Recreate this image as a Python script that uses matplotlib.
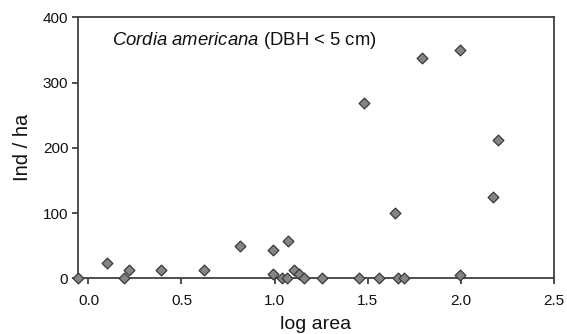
import numpy as np
import matplotlib
matplotlib.use('Agg')
import matplotlib.pyplot as plt

plt.rcParams['font.family'] = ['Liberation Sans', 'DejaVu Sans']
plt.rcParams['mathtext.fontset'] = 'custom'
plt.rcParams['mathtext.it'] = 'Liberation Sans:italic'
plt.rcParams['mathtext.rm'] = 'Liberation Sans'

# log area vs. individuals per hectare
log_area = [-0.056, 0.10, 0.19, 0.22, 0.39, 0.62, 0.815, 0.99, 0.99, 1.04,
            1.066, 1.07, 1.105, 1.13, 1.157, 1.256, 1.452, 1.482, 1.562, 1.648,
            1.661, 1.697, 1.792, 1.998, 1.998, 2.172, 2.199]
ind_ha = [0, 24, 0, 12, 12, 12, 49.5, 43, 7, 0,
          0, 57, 12, 6.5, 0, 0, 0, 269, 0, 100,
          0, 0, 338, 350, 5, 124, 212]

fig = plt.figure(figsize=(5.67, 3.34), dpi=100)
ax = fig.add_axes([0.1376, 0.1668, 0.9765 - 0.1376, 0.948 - 0.1668])

ax.scatter(log_area, ind_ha, marker='D', s=30, facecolor='#858585',
           edgecolor='#3a3a3a', linewidth=0.9, zorder=3, clip_on=False)

ax.set_xlim(-0.056, 2.5)
ax.set_ylim(0, 400)
ax.set_xticks([0.0, 0.5, 1.0, 1.5, 2.0, 2.5])
ax.set_xticklabels(['0.0', '0.5', '1.0', '1.5', '2.0', '2.5'])
ax.set_yticks([0, 100, 200, 300, 400])

for s in ax.spines.values():
    s.set_color('#404040')
    s.set_linewidth(1.3)
ax.tick_params(direction='out', width=1.3, color='#404040',
               labelsize=11, labelcolor='#111111')
ax.tick_params(axis='x', length=4, pad=7)
ax.tick_params(axis='y', length=4.5, pad=2.5)

ax.set_xlabel('log area', fontsize=14, color='#111111', labelpad=6)
ax.set_ylabel('Ind / ha', fontsize=14.5, color='#111111', labelpad=8)

ax.text(0.0715, 0.913, r'$\it{Cordia\ americana}$ (DBH < 5 cm)', transform=ax.transAxes,
        fontsize=13.3, va='center', ha='left', color='#111111')

fig.savefig('out.png', dpi=100)
